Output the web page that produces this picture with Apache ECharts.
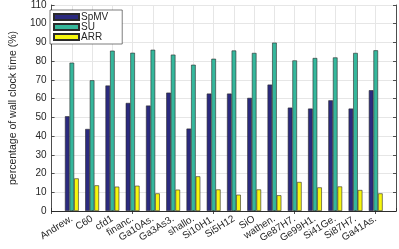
<!DOCTYPE html>
<html><head><meta charset="utf-8">
<script src="https://cdn.jsdelivr.net/npm/echarts@6/dist/echarts.min.js"></script>
<style>html,body{margin:0;padding:0;background:#fff}#c{width:399px;height:249px}</style>
</head><body><div id="c"></div>
<script>
const categories = ["Andrew.", "C60", "cfd1", "financ.", "Ga10As.", "Ga3As3.", "shallo.", "Si10H1.", "Si5H12", "SiO", "wathen.", "Ge87H7.", "Ge99H1.", "Si41Ge.", "Si87H7.", "Ga41As."];
const spmv = [50.6, 43.8, 67.0, 57.7, 56.3, 63.2, 44.0, 62.7, 62.7, 60.4, 67.5, 55.2, 54.7, 59.1, 54.7, 64.5];
const su   = [79.2, 69.8, 85.6, 84.5, 86.1, 83.5, 78.1, 81.3, 85.7, 84.4, 89.9, 80.4, 81.7, 82.0, 84.4, 85.8];
const arr  = [17.4, 13.7, 13.0, 13.5, 9.4, 11.4, 18.5, 11.5, 8.7, 11.5, 8.4, 15.5, 12.6, 13.1, 11.2, 9.4];
const yTicks = [0, 10, 20, 30, 40, 50, 60, 70, 80, 90, 100, 110];

const cats = [''].concat(categories, ['']);
const pad = a => [null].concat(a, [null]);
const axisCol = '#262626';
const font = 'Liberation Sans, Arial, sans-serif';
const chart = echarts.init(document.getElementById('c'), null, {renderer: 'canvas'});
const barStyle = (c) => ({color: c, borderColor: '#2a2a2a', borderWidth: 0.6});
chart.setOption({
  animation: false,
  grid: {left: 41, right: 3, top: 4.5, bottom: 38, containLabel: false},
  legend: {
    orient: 'vertical', left: 50, top: 10, itemWidth: 25, itemHeight: 6, itemGap: 0,
    padding: [2, 14, 2, 3], backgroundColor: '#fff', borderColor: axisCol, borderWidth: 0.6, borderRadius: 0,
    textStyle: {fontFamily: font, fontSize: 10, color: axisCol, lineHeight: 8.3, padding: [0, 0, 0, -3]},
    data: ['SpMV', 'SU', 'ARR'], icon: 'rect'
  },
  xAxis: [{
    type: 'category', data: cats, boundaryGap: false,
    axisLine: {lineStyle: {color: axisCol, width: 0.8}},
    axisTick: {inside: true, length: 3, lineStyle: {color: axisCol, width: 0.8}},
    splitLine: {show: true, lineStyle: {color: '#e6e6e6', width: 1}},
    axisLabel: {interval: 0, rotate: 32, fontFamily: font, fontSize: 10, color: axisCol, margin: 7}
  }, {
    type: 'category', data: cats, boundaryGap: false, position: 'top',
    axisLine: {lineStyle: {color: axisCol, width: 0.8}},
    axisTick: {inside: true, length: 3, lineStyle: {color: axisCol, width: 0.8}},
    axisLabel: {show: false}, splitLine: {show: false}
  }],
  yAxis: [{
    type: 'value', min: 0, max: 110, interval: 10,
    name: 'percentage of wall clock time (%)', nameLocation: 'middle', nameGap: 28,
    nameTextStyle: {fontFamily: font, fontSize: 10.5, color: axisCol},
    axisLine: {show: true, lineStyle: {color: axisCol, width: 0.8}},
    axisTick: {show: true, inside: true, length: 3, lineStyle: {color: axisCol, width: 0.8}},
    splitLine: {show: true, lineStyle: {color: '#e6e6e6', width: 1}},
    axisLabel: {fontFamily: font, fontSize: 10, color: axisCol, margin: 5,
      formatter: v => yTicks.includes(v) ? String(v) : ''}
  }, {
    type: 'value', min: 0, max: 110, interval: 10, position: 'right',
    axisLine: {show: true, lineStyle: {color: axisCol, width: 0.8}},
    axisTick: {show: true, inside: true, length: 3, lineStyle: {color: axisCol, width: 0.8}},
    axisLabel: {show: false}, splitLine: {show: false}
  }],
  series: [
    {name: 'SpMV', type: 'bar', data: pad(spmv), barWidth: 4.6, barGap: '0%', itemStyle: barStyle('#2b2a7f')},
    {name: 'SU', type: 'bar', data: pad(su), barWidth: 4.6, barGap: '0%', itemStyle: barStyle('#35b79c')},
    {name: 'ARR', type: 'bar', data: pad(arr), barWidth: 4.6, barGap: '0%', itemStyle: barStyle('#f6f60e')}
  ]
});
</script></body></html>
